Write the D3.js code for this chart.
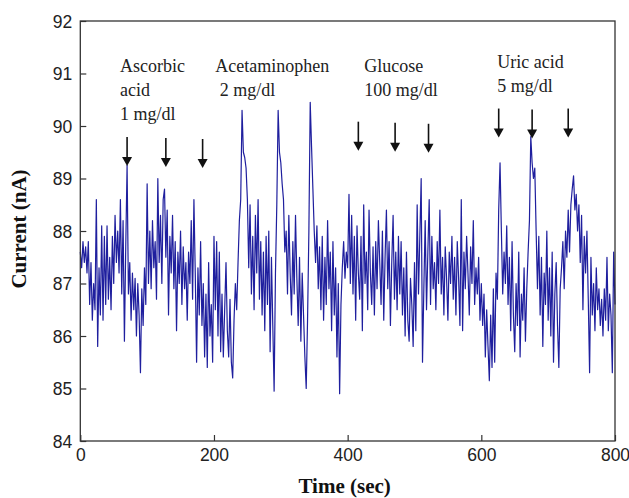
<!DOCTYPE html>
<html>
<head>
<meta charset="utf-8">
<script src="https://cdn.jsdelivr.net/npm/d3@7"></script>
<style>
  body { margin: 0; background: #fff; }
  .tick text { font-family: "Liberation Sans", Arial, sans-serif; font-size: 17.5px; fill: #222; }
  .tick line { stroke: #333; stroke-width: 1.2; }
</style>
</head>
<body>
<div id="chart"></div>
<script>
////////// Data ///////////

// current (nA), one reading every 2 sec from 0 to 800 sec
var step = 2;
var current = [
  87.6, 87.3, 87.8, 87.4, 87.7, 87.2, 87.8, 86.6, 87.4, 86.3, 87.0, 86.5, 88.6, 85.8, 87.3, 86.4, 88.1, 86.3, 87.9, 86.6,
  88.1, 86.7, 87.5, 86.5, 87.9, 87.0, 88.3, 87.4, 88.0, 87.2, 88.6, 86.8, 88.2, 85.9, 87.7, 89.25, 86.8, 87.4, 86.3, 87.2,
  86.5, 87.1, 86.0, 87.0, 86.4, 85.3, 86.9, 86.2, 87.3, 86.6, 88.9, 87.0, 88.0, 86.9, 88.2, 87.3, 87.8, 86.7, 89.0, 87.4,
  88.3, 87.0, 88.6, 88.8, 87.5, 88.4, 86.4, 87.9, 87.2, 88.3, 86.9, 87.8, 86.1, 87.6, 87.0, 88.0, 86.6, 87.7, 86.9, 87.4,
  86.3, 87.6, 87.0, 88.2, 86.7, 88.6, 87.2, 85.5, 87.3, 86.4, 87.8, 86.2, 87.0, 85.6, 86.8, 85.4, 87.4, 86.0, 86.6, 85.5,
  87.9, 86.5, 87.8, 86.0, 87.6, 85.7, 86.8, 85.6, 86.5, 87.4, 86.1, 85.6, 86.7, 85.5, 85.2, 86.3, 87.0, 86.5, 87.4, 88.2,
  88.6, 90.3, 89.5, 89.4, 89.2, 88.6, 87.3, 88.5, 86.8, 87.9, 86.5, 88.3, 87.2, 88.6, 86.7, 87.8, 86.4, 87.6, 86.1, 87.9,
  86.6, 88.0, 85.7, 87.5, 86.2, 84.95, 87.2, 88.5, 90.3, 89.5, 89.3, 88.9, 88.6, 87.6, 88.0, 86.8, 88.3, 87.2, 86.4, 87.8,
  86.8, 88.3, 87.1, 86.2, 87.5, 85.9, 87.2, 86.4, 85.6, 85.0, 86.3, 88.0, 90.45, 89.6, 88.8, 88.0, 87.4, 88.1, 86.9, 87.7,
  86.5, 87.9, 86.3, 87.5, 86.6, 88.2, 86.9, 87.6, 86.1, 87.8, 86.4, 87.3, 85.6, 87.0, 84.9, 86.6, 87.3, 87.8, 87.1, 87.6,
  87.3, 88.7, 87.0, 88.3, 86.8, 87.9, 86.3, 88.1, 87.2, 86.7, 87.9, 86.1, 88.5, 87.0, 87.6, 86.5, 88.4, 87.2, 86.6, 87.7,
  86.4, 87.8, 86.9, 88.2, 87.4, 86.6, 88.0, 86.3, 87.5, 88.4, 86.9, 87.8, 86.2, 87.4, 88.3, 86.7, 87.6, 86.5, 87.9, 86.8,
  87.8, 86.4, 87.3, 86.0, 87.6, 86.3, 85.9, 87.1, 86.6, 85.8, 87.4, 86.1, 88.5, 86.8, 87.9, 89.0, 85.5, 86.9, 88.2, 86.5,
  87.6, 88.6, 86.6, 87.9, 86.9, 87.4, 86.5, 87.8, 87.0, 88.4, 86.8, 87.5, 86.4, 87.7, 87.1, 86.3, 87.6, 87.0, 87.9, 86.7,
  87.5, 86.4, 87.8, 87.1, 86.2, 88.6, 86.1, 87.6, 86.9, 87.9, 87.2, 86.4, 87.7, 87.0, 88.2, 86.6, 87.3, 86.8, 87.5, 86.3,
  87.0, 86.2, 86.8, 85.6, 86.5, 85.8, 85.15, 86.4, 85.4, 86.9, 85.5, 87.2, 86.7, 88.4, 89.3, 88.0, 86.8, 87.6, 87.0, 88.1,
  86.6, 87.5, 86.1, 87.8, 86.4, 85.7, 87.0, 86.2, 87.6, 85.6, 86.8, 86.3, 87.3, 85.9, 86.9, 87.6, 88.2, 89.8, 89.3, 89.0,
  89.2, 88.0, 86.9, 87.9, 86.4, 87.5, 85.8, 87.2, 86.6, 88.0, 86.3, 87.3, 86.0, 87.6, 85.5, 86.8, 87.4, 86.2, 85.4, 86.9,
  87.3, 87.8, 86.9, 88.0, 87.5, 88.4, 87.6, 88.5, 88.8, 89.05, 88.4, 88.7, 88.0, 88.5, 87.4, 88.3, 86.5, 87.9, 87.2, 88.0,
  86.7, 85.3, 87.5, 86.4, 87.0, 86.1, 87.3, 86.5, 86.9, 86.2, 86.7, 86.0, 86.9, 86.3, 87.5, 86.1, 86.8, 86.4, 85.3, 87.6,
  86.6
];

var xTicks = [0, 200, 400, 600, 800];
var yTicks = [84, 85, 86, 87, 88, 89, 90, 91, 92];

// injection arrows: time (sec) and current at the arrow tip (nA)
var arrowTimes = [70, 128, 183, 416, 471, 521, 626, 676, 730];
var arrowTips = [89.24, 89.22, 89.2, 89.53, 89.51, 89.49, 89.78, 89.76, 89.78];

// annotation labels: lines, anchor time (sec) and first baseline (nA)
var labelLines = [["Ascorbic", "acid", "1 mg/dl"], ["Acetaminophen", " 2 mg/dl"], ["Glucose", "100 mg/dl"], ["Uric acid", "5 mg/dl"]];
var labelTimes = [59.4, 202, 424.7, 624];
var labelValues = [91.03, 91.03, 91.03, 91.1];

////////// Draw ///////////

var W = 629, H = 498;
var margin = { top: 21, right: 14, bottom: 57, left: 80.3 };
var width = W - margin.left - margin.right;
var height = H - margin.top - margin.bottom;

var svg = d3.select("#chart").append("svg")
  .attr("width", W)
  .attr("height", H);

var g = svg.append("g")
  .attr("transform", "translate(" + margin.left + "," + margin.top + ")");

var x = d3.scaleLinear().domain([0, 800]).range([0, width]);
var y = d3.scaleLinear().domain([84, 92]).range([height, 0]);

// axes, ticks point inward
var xAxis = g.append("g")
  .attr("transform", "translate(0," + height + ")")
  .call(d3.axisBottom(x).tickValues(xTicks).tickSizeInner(-6).tickSizeOuter(0).tickPadding(8));
xAxis.select(".domain").remove();

var yAxis = g.append("g")
  .call(d3.axisLeft(y).tickValues(yTicks).tickSizeInner(-6).tickSizeOuter(0).tickPadding(8));
yAxis.select(".domain").remove();
yAxis.selectAll(".tick text").attr("dy", "0.36em");

// the line
var line = d3.line()
  .x(function(d, i) { return x(i * step); })
  .y(function(d) { return y(d); });

g.append("path")
  .datum(current)
  .attr("fill", "none")
  .attr("stroke", "#1f1f9e")
  .attr("stroke-width", 1.2)
  .attr("stroke-linejoin", "round")
  .attr("d", line);

// frame
g.append("rect")
  .attr("width", width)
  .attr("height", height)
  .attr("fill", "none")
  .attr("stroke", "#333")
  .attr("stroke-width", 1.3);

// arrows
var arrowLen = 29, headH = 9, headW = 5;
var arrows = g.selectAll(".arrow")
  .data(arrowTimes)
  .enter().append("g")
  .attr("class", "arrow")
  .attr("transform", function(d, i) { return "translate(" + x(d) + "," + y(arrowTips[i]) + ")"; });

arrows.append("line")
  .attr("x1", 0).attr("x2", 0)
  .attr("y1", -arrowLen).attr("y2", -headH + 1)
  .attr("stroke", "#111")
  .attr("stroke-width", 1.6);

arrows.append("path")
  .attr("d", "M" + (-headW) + "," + (-headH) + "L" + headW + "," + (-headH) + "L0,0Z")
  .attr("fill", "#111");

// annotation text
labelLines.forEach(function(lines, k) {
  var t = g.append("text")
    .attr("x", x(labelTimes[k]))
    .attr("y", y(labelValues[k]))
    .style("font-family", "'Liberation Serif', 'Times New Roman', serif")
    .style("font-size", "18px")
    .style("fill", "#222")
    .style("white-space", "pre");
  lines.forEach(function(s, j) {
    t.append("tspan")
      .attr("x", x(labelTimes[k]))
      .attr("dy", j == 0 ? 0 : 24)
      .text(s);
  });
});

// axis titles
svg.append("text")
  .attr("x", margin.left + x(400) - 3)
  .attr("y", 493)
  .attr("text-anchor", "middle")
  .style("font-family", "'Liberation Serif', 'Times New Roman', serif")
  .style("font-weight", "bold")
  .style("font-size", "21px")
  .style("fill", "#111")
  .text("Time (sec)");

svg.append("text")
  .attr("transform", "translate(26," + (margin.top + y(88) - 2) + ") rotate(-90)")
  .attr("text-anchor", "middle")
  .style("font-family", "'Liberation Serif', 'Times New Roman', serif")
  .style("font-weight", "bold")
  .style("font-size", "21px")
  .style("fill", "#111")
  .text("Current (nA)");
</script>
</body>
</html>
